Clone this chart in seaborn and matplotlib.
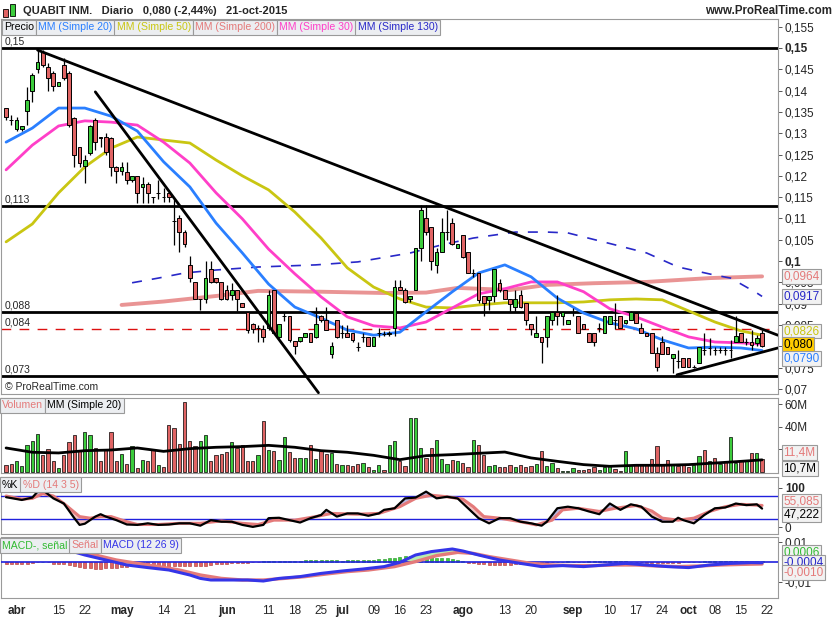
import numpy as np
import pandas as pd
import matplotlib
matplotlib.use("Agg")
import matplotlib.pyplot as plt
from matplotlib.patches import Rectangle
import seaborn as sns

# ------------------- data ------------------- #
start, end = "2015-03-30", "2015-10-22"
holidays = ["2015-04-03", "2015-04-06", "2015-05-01"]

opens = [
    0.1358, 0.1331, 0.1309, 0.1309, 0.1351, 0.1400, 0.1450, 0.1491, 0.1456, 0.1441,
    0.1411, 0.1460, 0.1441, 0.1335, 0.1268, 0.1223, 0.1253, 0.1331, 0.1290, 0.1290,
    0.1288, 0.1221, 0.1212, 0.1210, 0.1190, 0.1200, 0.1173, 0.1181, 0.1150, 0.1159,
    0.1150, 0.1159, 0.1093, 0.1101, 0.1069, 0.0991, 0.0950, 0.0911, 0.0911, 0.0981,
    0.0960, 0.0950, 0.0932, 0.0920, 0.0932, 0.0901, 0.0881, 0.0852, 0.0843, 0.0840,
    0.0842, 0.0932, 0.0821, 0.0870, 0.0870, 0.0813, 0.0812, 0.0821, 0.0831, 0.0821,
    0.0870, 0.0862, 0.0782, 0.0862, 0.0832, 0.0831, 0.0831, 0.0799, 0.0821, 0.0821,
    0.0801, 0.0832, 0.0829, 0.0829, 0.0842, 0.0940, 0.0932, 0.0910, 0.0932, 0.1030,
    0.1100, 0.1079, 0.0991, 0.1022, 0.1069, 0.1090, 0.1030, 0.1061, 0.1022, 0.0971,
    0.0971, 0.0918, 0.0909, 0.0918, 0.0949, 0.0932, 0.0910, 0.0891, 0.0920, 0.0901,
    0.0852, 0.0821, 0.0821, 0.0821, 0.0862, 0.0881, 0.0871, 0.0852, 0.0881, 0.0871,
    0.0852, 0.0831, 0.0831, 0.0842, 0.0831, 0.0852, 0.0862, 0.0871, 0.0854, 0.0862,
    0.0879, 0.0842, 0.0831, 0.0831, 0.0784, 0.0811, 0.0799, 0.0772, 0.0766, 0.0772,
    0.0772, 0.0751, 0.0760, 0.0791, 0.0795, 0.0791, 0.0792, 0.0791, 0.0791, 0.0811,
    0.0831, 0.0811, 0.0811, 0.0807, 0.0832]
highs = [
    0.1360, 0.1343, 0.1339, 0.1317, 0.1409, 0.1441, 0.1495, 0.1495, 0.1464, 0.1445,
    0.1419, 0.1476, 0.1445, 0.1339, 0.1268, 0.1249, 0.1319, 0.1335, 0.1292, 0.1300,
    0.1290, 0.1223, 0.1233, 0.1233, 0.1200, 0.1200, 0.1197, 0.1185, 0.1150, 0.1190,
    0.1171, 0.1163, 0.1145, 0.1108, 0.1073, 0.1012, 0.0950, 0.0911, 0.0999, 0.0999,
    0.0960, 0.0950, 0.0944, 0.0949, 0.0932, 0.0901, 0.0881, 0.0855, 0.0850, 0.0850,
    0.0932, 0.0932, 0.0852, 0.0879, 0.0870, 0.0813, 0.0821, 0.0832, 0.0831, 0.0893,
    0.0874, 0.0893, 0.0811, 0.0862, 0.0850, 0.0850, 0.0831, 0.0811, 0.0831, 0.0821,
    0.0821, 0.0842, 0.0835, 0.0835, 0.0956, 0.0956, 0.0936, 0.0918, 0.1030, 0.1132,
    0.1132, 0.1079, 0.1030, 0.1100, 0.1120, 0.1100, 0.1040, 0.1061, 0.1022, 0.0981,
    0.0971, 0.0918, 0.0918, 0.0981, 0.0959, 0.0932, 0.0910, 0.0932, 0.0932, 0.0901,
    0.0852, 0.0870, 0.0821, 0.0870, 0.0881, 0.0920, 0.0881, 0.0862, 0.0889, 0.0871,
    0.0852, 0.0831, 0.0831, 0.0854, 0.0870, 0.0871, 0.0901, 0.0871, 0.0862, 0.0883,
    0.0881, 0.0854, 0.0831, 0.0831, 0.0799, 0.0823, 0.0799, 0.0782, 0.0791, 0.0772,
    0.0772, 0.0755, 0.0799, 0.0831, 0.0819, 0.0799, 0.0799, 0.0799, 0.0815, 0.0870,
    0.0831, 0.0819, 0.0838, 0.0826, 0.0838]
lows = [
    0.1331, 0.1319, 0.1305, 0.1305, 0.1320, 0.1374, 0.1441, 0.1456, 0.1398, 0.1398,
    0.1411, 0.1425, 0.1315, 0.1221, 0.1221, 0.1183, 0.1249, 0.1261, 0.1268, 0.1249,
    0.1200, 0.1183, 0.1202, 0.1181, 0.1185, 0.1136, 0.1136, 0.1136, 0.1136, 0.1145,
    0.1139, 0.1139, 0.1038, 0.1022, 0.1034, 0.0952, 0.0911, 0.0884, 0.0901, 0.0949,
    0.0949, 0.0909, 0.0909, 0.0909, 0.0883, 0.0892, 0.0831, 0.0831, 0.0811, 0.0811,
    0.0838, 0.0830, 0.0819, 0.0860, 0.0811, 0.0782, 0.0811, 0.0821, 0.0811, 0.0819,
    0.0858, 0.0838, 0.0772, 0.0819, 0.0819, 0.0821, 0.0811, 0.0790, 0.0811, 0.0801,
    0.0801, 0.0821, 0.0823, 0.0823, 0.0823, 0.0932, 0.0901, 0.0905, 0.0932, 0.0999,
    0.1061, 0.0979, 0.0971, 0.1022, 0.1049, 0.1038, 0.1030, 0.1006, 0.0971, 0.0963,
    0.0901, 0.0871, 0.0884, 0.0905, 0.0928, 0.0910, 0.0881, 0.0881, 0.0889, 0.0850,
    0.0827, 0.0821, 0.0760, 0.0799, 0.0850, 0.0850, 0.0850, 0.0852, 0.0871, 0.0831,
    0.0840, 0.0811, 0.0801, 0.0834, 0.0831, 0.0852, 0.0840, 0.0842, 0.0852, 0.0862,
    0.0854, 0.0831, 0.0823, 0.0784, 0.0743, 0.0782, 0.0782, 0.0737, 0.0748, 0.0751,
    0.0751, 0.0748, 0.0760, 0.0780, 0.0780, 0.0780, 0.0784, 0.0780, 0.0772, 0.0811,
    0.0811, 0.0803, 0.0791, 0.0801, 0.0799]
closes = [
    0.1339, 0.1330, 0.1331, 0.1317, 0.1378, 0.1437, 0.1468, 0.1460, 0.1429, 0.1411,
    0.1419, 0.1429, 0.1320, 0.1249, 0.1231, 0.1237, 0.1317, 0.1280, 0.1288, 0.1257,
    0.1220, 0.1212, 0.1221, 0.1190, 0.1200, 0.1159, 0.1181, 0.1159, 0.1150, 0.1159,
    0.1150, 0.1150, 0.1093, 0.1069, 0.1039, 0.0960, 0.0911, 0.0911, 0.0960, 0.0952,
    0.0950, 0.0911, 0.0911, 0.0931, 0.0911, 0.0892, 0.0838, 0.0840, 0.0843, 0.0821,
    0.0920, 0.0832, 0.0852, 0.0870, 0.0814, 0.0801, 0.0821, 0.0831, 0.0811, 0.0852,
    0.0862, 0.0838, 0.0801, 0.0821, 0.0832, 0.0821, 0.0814, 0.0799, 0.0821, 0.0801,
    0.0821, 0.0832, 0.0829, 0.0832, 0.0940, 0.0932, 0.0905, 0.0918, 0.1030, 0.1120,
    0.1069, 0.0999, 0.1022, 0.1069, 0.1069, 0.1040, 0.1040, 0.1010, 0.0971, 0.0971,
    0.0909, 0.0901, 0.0918, 0.0981, 0.0932, 0.0910, 0.0899, 0.0910, 0.0891, 0.0862,
    0.0840, 0.0832, 0.0811, 0.0870, 0.0881, 0.0871, 0.0881, 0.0862, 0.0881, 0.0831,
    0.0840, 0.0811, 0.0811, 0.0842, 0.0870, 0.0871, 0.0862, 0.0842, 0.0862, 0.0881,
    0.0854, 0.0831, 0.0823, 0.0784, 0.0751, 0.0782, 0.0782, 0.0782, 0.0766, 0.0751,
    0.0751, 0.0751, 0.0799, 0.0791, 0.0795, 0.0791, 0.0792, 0.0791, 0.0791, 0.0823,
    0.0811, 0.0811, 0.0803, 0.0820, 0.0800]

# volume in millions
volume = [
    5.9, 7.4, 9.4, 5.0, 24.1, 27.6, 33.5, 15.3, 20.3, 9.4,
    3.5, 15.3, 26.5, 32.4, 18.2, 35.3, 32.9, 21.2, 9.4, 20.6,
    35.3, 9.4, 15.9, 7.1, 23.2, 3.5, 10.9, 9.4, 19.7, 6.5,
    4.1, 41.8, 38.8, 24.7, 61.8, 27.1, 22.6, 27.6, 32.9, 9.4,
    15.3, 16.2, 17.6, 26.2, 21.2, 24.1, 9.4, 9.4, 15.3, 44.7,
    19.7, 18.2, 10.9, 30.9, 17.4, 12.4, 12.4, 12.4, 24.1, 11.8,
    19.7, 15.9, 16.8, 7.1, 6.5, 5.9, 5.0, 7.1, 7.9, 4.1,
    2.1, 5.9, 2.1, 23.5, 27.1, 10.0, 5.0, 47.6, 47.6, 21.2,
    12.4, 21.2, 28.5, 11.8, 7.4, 10.3, 9.4, 7.9, 4.1, 28.5,
    24.1, 15.3, 5.0, 6.5, 4.1, 4.1, 6.5, 4.1, 5.9, 4.1,
    5.0, 7.1, 18.2, 5.0, 7.9, 3.5, 1.2, 1.2, 3.5, 2.1,
    2.1, 2.9, 4.1, 2.1, 4.1, 5.0, 2.9, 1.2, 18.8, 6.5,
    6.5, 6.5, 6.5, 11.5, 22.6, 6.5, 10.9, 6.5, 5.0, 6.5,
    4.1, 6.5, 13.8, 19.7, 9.4, 12.4, 7.1, 9.4, 30.6, 7.9,
    9.4, 9.4, 16.8, 16.8, 11.4]

# moving averages sampled every 5 sessions
ma_idx = [0, 5, 10, 15, 20, 25, 30, 35, 40, 45, 50, 55, 60, 65, 70,
          75, 80, 85, 90, 95, 100, 105, 110, 115, 120, 125, 130, 135, 140, 144]
ma20 = [0.1279, 0.1312, 0.1359, 0.1359, 0.1340, 0.1305, 0.1233, 0.1174, 0.1089, 0.1019,
        0.0946, 0.0892, 0.0866, 0.0838, 0.0826, 0.0833, 0.0881, 0.0928, 0.0972, 0.0991,
        0.0963, 0.0913, 0.0878, 0.0855, 0.0841, 0.0815, 0.0796, 0.0798, 0.0796, 0.0790]
ma30 = [0.1214, 0.1272, 0.1317, 0.1329, 0.1326, 0.1319, 0.1279, 0.1230, 0.1160, 0.1099,
        0.1028, 0.0970, 0.0916, 0.0869, 0.0848, 0.0843, 0.0857, 0.0890, 0.0923, 0.0935,
        0.0951, 0.0951, 0.0928, 0.0888, 0.0869, 0.0845, 0.0822, 0.0810, 0.0808, 0.0805]
ma50 = [0.1045, 0.1087, 0.1160, 0.1221, 0.1265, 0.1291, 0.1284, 0.1277, 0.1237, 0.1200,
        0.1167, 0.1115, 0.1054, 0.0984, 0.0939, 0.0911, 0.0892, 0.0890, 0.0897, 0.0902,
        0.0902, 0.0902, 0.0904, 0.0909, 0.0911, 0.0909, 0.0883, 0.0857, 0.0836, 0.0826]
ma200_idx = [22, 30, 40, 48, 60, 72, 80, 86, 96, 103, 112, 122, 134, 144]
ma200 = [0.0897, 0.0905, 0.0918, 0.0930, 0.0928, 0.0925, 0.0926, 0.0937, 0.0932, 0.0944,
         0.0948, 0.0951, 0.0960, 0.0964]
ma130_idx = [24, 29, 34, 40, 48, 59, 67, 77, 83, 89, 97, 103, 107, 116, 122, 128, 135,
             138, 143, 144]
ma130 = [0.0949, 0.0960, 0.0972, 0.0979, 0.0986, 0.0991, 0.0998, 0.1019, 0.1038, 0.1054,
         0.1068, 0.1068, 0.1066, 0.1038, 0.1019, 0.0986, 0.0967, 0.0960, 0.0925, 0.0917]
vol_ma20 = [21.2, 17.4, 16.8, 18.8, 19.4, 21.2, 18.2, 20.6, 21.8, 22.4, 23.5, 21.8, 18.8,
            17.4, 14.7, 10.9, 14.4, 15.3, 16.5, 17.6, 12.4, 9.4, 6.5, 5.0, 5.9, 5.9, 6.5,
            7.9, 9.4, 10.7]

# support / resistance levels and trend lines (session index, price)
levels = [0.15, 0.113, 0.088, 0.073]
level_labels = ["0,15", "0,113", "0,088", "0,073"]
dashed_level = 0.084
trend_lines = [((6, 0.1495), (147, 0.0826)),
               ((17, 0.1397), (59.5, 0.0691)),
               ((127.8, 0.0733), (147, 0.0796))]

# stochastic %K and %D
k_idx = [0, 3, 5, 6, 7, 9, 11, 13, 14, 15, 17, 18, 19, 21, 23, 25, 27, 29, 31, 33, 35,
         37, 39, 41, 43, 45, 47, 49, 50, 52, 54, 56, 58, 60, 61, 63, 65, 67, 69, 71, 72,
         74, 76, 78, 80, 82, 84, 86, 88, 90, 92, 94, 96, 98, 100, 102, 103, 105, 107, 109,
         111, 113, 115, 117, 119, 121, 123, 125, 127, 128, 129, 131, 133, 135, 137, 139,
         141, 143, 144]
k_val = [76, 69, 75, 90, 94, 73, 60, 23, 6, 9, 27, 33, 27, 18, 7, 6, 10, 6, 7, 10, 10,
         4, 18, 14, 14, 6, 1, 6, 23, 24, 18, 12, 23, 31, 44, 27, 35, 35, 29, 35, 44,
         48, 73, 75, 90, 73, 77, 73, 48, 23, 10, 23, 23, 14, 10, 4, 14, 48, 52, 48,
         40, 33, 60, 44, 58, 52, 27, 14, 14, 24, 18, 10, 31, 48, 50, 60,
         56, 58, 47.222]
d_idx = [0, 3, 5, 7, 9, 11, 13, 14, 16, 18, 20, 23, 25, 29, 33, 37, 41, 45, 48, 51, 55,
         59, 62, 67, 71, 75, 78, 81, 84, 87, 89, 91, 94, 98, 101, 104, 106, 109, 113, 116,
         120, 123, 125, 128, 131, 134, 137, 140, 144]
d_val = [79, 71, 73, 85, 79, 60, 38, 27, 23, 27, 27, 14, 7, 7, 10, 10, 16, 10, 7, 18, 18,
         27, 35, 33, 35, 52, 73, 81, 77, 71, 52, 27, 23, 14, 6, 18, 44, 48, 40, 48,
         55, 41, 23, 18, 23, 40, 52, 58, 55.085]

# MACD (12 26 9)
macd_idx = [0, 5, 9, 13, 15, 19, 23, 27, 31, 35, 37, 39, 43, 46, 49, 52, 56, 60, 64, 68,
            72, 75, 78, 81, 85, 87, 90, 94, 98, 102, 106, 110, 114, 118, 122, 126, 130,
            134, 138, 142, 144]
macd = [0.0085, 0.0082, 0.0070, 0.0050, 0.0035, 0.0010, -0.0015, -0.0028, -0.0040,
        -0.0065, -0.0082, -0.0090, -0.0090, -0.0090, -0.0095, -0.0082, -0.0073, -0.0057,
        -0.0045, -0.0035, -0.0023, -0.0002, 0.0035, 0.0052, 0.0065, 0.0055, 0.0035, 0.0010,
        -0.0007, -0.0023, -0.0018, -0.0023, -0.0015, -0.0007, -0.0015, -0.0023, -0.0028,
        -0.0015, -0.0007, -0.0003, -0.0004]
sig_idx = [0, 6, 10, 13, 17, 21, 25, 29, 33, 37, 41, 45, 49, 53, 57, 61, 65, 69, 74, 78,
           82, 86, 89, 92, 96, 100, 104, 108, 112, 116, 120, 124, 128, 132, 136, 140, 144]
signal = [0.0080, 0.0085, 0.0080, 0.0060, 0.0035, 0.0010, -0.0007, -0.0023, -0.0040,
          -0.0065, -0.0082, -0.0090, -0.0090, -0.0082, -0.0073, -0.0060, -0.0048, -0.0040,
          -0.0023, 0.0002, 0.0032, 0.0048, 0.0043, 0.0027, 0.0010, -0.0007, -0.0015,
          -0.0018, -0.0018, -0.0015, -0.0015, -0.0020, -0.0023, -0.0020, -0.0015, -0.0012,
          -0.0010]
macd_hist = [
    -0.0010, -0.0012, -0.0010, -0.0008, -0.0010, -0.0006, -0.0002, 0.0, -0.0002,
    -0.0008, -0.0010, -0.0012, -0.0015, -0.0020,
    -0.0025, -0.0030, -0.0032, -0.0035, -0.0033, -0.0030, -0.0030, -0.0028, -0.0027,
    -0.0025, -0.0022, -0.0020, -0.0022, -0.0025, -0.0027, -0.0028, -0.0030, -0.0025,
    -0.0022,
    -0.0020, -0.0018, -0.0018, -0.0020, -0.0020, -0.0018, -0.0015, -0.0012, -0.0010,
    -0.0008, -0.0006, -0.0005, -0.0004, -0.0003, -0.0002, -0.0001,
    0.0003, 0.0005, 0.0006, 0.0005, 0.0004, 0.0005, 0.0006, 0.0007, 0.0008, 0.0008,
    0.0009, 0.0010, 0.0009, 0.0008, 0.0008, 0.0007, 0.0008, 0.0009, 0.0010, 0.0011,
    0.0010, 0.0012, 0.0014, 0.0016,
    0.0018, 0.0022, 0.0025, 0.0028, 0.0030, 0.0030, 0.0028, 0.0027, 0.0025, 0.0022,
    0.0020, 0.0018, 0.0014, 0.0010, 0.0006,
    -0.0003, -0.0006, -0.0010, -0.0012, -0.0014, -0.0015, -0.0016, -0.0015, -0.0014,
    -0.0012, -0.0010, -0.0009, -0.0008, -0.0006, -0.0004, -0.0003, -0.0002,
    0.0001, 0.0002, 0.0003, 0.0002, 0.0001, 0.0002, 0.0003, 0.0004, 0.0004, 0.0003,
    0.0004, 0.0005, 0.0004, 0.0003, 0.0002,
    -0.0001, -0.0002, -0.0003, -0.0004, -0.0005, -0.0005, -0.0004, -0.0003, -0.0003,
    -0.0002, -0.0001, 0.0,
    0.0002, 0.0003, 0.0004, 0.0005, 0.0006, 0.0006, 0.0006, 0.0007, 0.0006, 0.0006,
    0.0006, 0.0006, 0.0006]

tick_dates = ["2015-04-01", "2015-04-15", "2015-04-22", "2015-05-04", "2015-05-14",
              "2015-05-21", "2015-06-01", "2015-06-11", "2015-06-18", "2015-06-25",
              "2015-07-01", "2015-07-09", "2015-07-16", "2015-07-23", "2015-08-03",
              "2015-08-13", "2015-08-20", "2015-09-01", "2015-09-10", "2015-09-17",
              "2015-09-24", "2015-10-01", "2015-10-08", "2015-10-15", "2015-10-22"]
tick_labels = ["abr", "15", "22", "may", "14", "21", "jun", "11", "18", "25", "jul", "09",
               "16", "23", "ago", "13", "20", "sep", "10", "17", "24", "oct", "08", "15", "22"]
month_names = ["abr", "may", "jun", "jul", "ago", "sep", "oct"]

# ------------------- styling ------------------- #
sns.set_style("white")
plt.rcParams['font.family'] = ['Liberation Sans', 'DejaVu Sans']

GREEN = "#3ccc3c"
RED = "#e06464"
C20, C30, C50, C200, C130 = "#2a7fff", "#ff3fc8", "#c9c612", "#e47a7a", "#2828c8"
FRAME = "#9a9a9a"

n = len(closes)
x = np.arange(n)
o, h, l, c = map(np.array, (opens, highs, lows, closes))
cols = np.where(c > o, GREEN, np.where(c < o, RED, "black"))
prev_c = np.r_[c[0], c[:-1]]
vol_cols = np.where(c > o, GREEN, np.where(c < o, RED, np.where(c >= prev_c, GREEN, RED)))

fig = plt.figure(figsize=(8.35, 6.2), dpi=100)
W = 777 / 835
ax_p = fig.add_axes([0.001, 1 - 394 / 620, W, 375 / 620])
ax_v = fig.add_axes([0.001, 1 - 473 / 620, W, 75 / 620])
ax_s = fig.add_axes([0.001, 1 - 534 / 620, W, 57 / 620])
ax_m = fig.add_axes([0.001, 1 - 598 / 620, W, 61 / 620])

for ax in (ax_p, ax_v, ax_s, ax_m):
    ax.set_xlim(-1, 147)
    for s in ax.spines.values():
        s.set_color(FRAME)
        s.set_linewidth(0.8)
    ax.yaxis.tick_right()
    ax.tick_params(axis='y', length=3, width=0.7, color="#555555", labelsize=8.5, pad=2)
    ax.tick_params(axis='x', length=0, labelbottom=False)

renderer = fig.canvas.get_renderer()


def tag(ax, y, text, color, fc="#f2f2f2", dy=0):
    ax.annotate(text, xy=(1, y), xycoords=('axes fraction', 'data'),
                xytext=(4, dy), textcoords='offset points', va='center', ha='left',
                color=color, fontsize=8.5, annotation_clip=False, zorder=20,
                bbox=dict(boxstyle='square,pad=0.12', fc=fc, ec="#9a9a9a", lw=0.8))


def legend_row(items, top_px, x_px=2):
    # boxes placed one after the other, like the chart's indicator headers
    for text, color in items:
        t = fig.text((x_px + 2) / 835, 1 - (top_px + 2.5) / 620, text, color=color,
                     fontsize=7.6, va='top', ha='left', zorder=30,
                     bbox=dict(boxstyle='square,pad=0.22', fc="#eceef1", ec="#9a9a9a", lw=0.8))
        w = t.get_window_extent(renderer).width
        x_px += w + 4.2


# ------------------- price panel ------------------- #
ax_p.set_ylim(0.0688, 0.1568)
for lv, lab in zip(levels, level_labels):
    ax_p.axhline(lv, color="black", lw=2, zorder=2)
    ax_p.annotate(lab, xy=(0, lv), xycoords=('axes fraction', 'data'), xytext=(3, 1),
                  textcoords='offset points', fontsize=7.5, va='bottom')
ax_p.axhline(dashed_level, color="#dd1111", lw=1, ls=(0, (7, 6)), zorder=2)
ax_p.annotate("0,084", xy=(0, dashed_level), xycoords=('axes fraction', 'data'),
              xytext=(3, 1), textcoords='offset points', fontsize=7.5, va='bottom')

for (x0, y0), (x1, y1) in trend_lines:
    ax_p.plot([x0, x1], [y0, y1], color="black", lw=2, zorder=6)

sns.lineplot(x=ma200_idx, y=ma200, ax=ax_p, color=C200, lw=2.8, alpha=0.8, zorder=3)
sns.lineplot(x=ma130_idx, y=ma130, ax=ax_p, color=C130, lw=1.2, linestyle=(0, (6, 6)), zorder=3)
sns.lineplot(x=ma_idx, y=ma50, ax=ax_p, color=C50, lw=2, zorder=3)
sns.lineplot(x=ma_idx, y=ma30, ax=ax_p, color=C30, lw=2, zorder=3)
sns.lineplot(x=ma_idx, y=ma20, ax=ax_p, color=C20, lw=2, zorder=3)

ax_p.vlines(x, l, h, color="black", lw=0.9, zorder=4)
ax_p.bar(x, np.abs(c - o), bottom=np.minimum(o, c), width=0.72, color=cols,
         edgecolor="black", linewidth=0.7, zorder=5)

pticks = np.round(np.arange(0.07, 0.1551, 0.005), 3)
ax_p.set_yticks(pticks)
ax_p.set_yticklabels(["" if v == 0.08 else "0," + f"{v:.3f}".split(".")[1].rstrip("0")
                      for v in pticks])
for t, v in zip(ax_p.get_yticklabels(), pticks):
    if v in (0.1, 0.15):
        t.set_fontweight('bold')
ax_p.set_ylabel("")

tag(ax_p, 0.0964, "0,0964", C200)
tag(ax_p, 0.0917, "0,0917", C130)
tag(ax_p, 0.0826, "0,0826", C50, dy=3)
tag(ax_p, 0.0800, "0,080", "black", fc="#ffcc00", dy=1)
tag(ax_p, 0.0790, "0,0790", C20, dy=-6)

ax_p.text(0.005, 0.012, "© ProRealTime.com", transform=ax_p.transAxes, fontsize=7.5)

# ------------------- volume panel ------------------- #
ax_v.set_ylim(-0.9, 65.3)
ax_v.bar(x, volume, width=0.62, color=vol_cols, edgecolor="black", linewidth=0.5, zorder=3)
sns.lineplot(x=ma_idx, y=vol_ma20, ax=ax_v, color="black", lw=2, zorder=4)
ax_v.set_yticks([20, 40, 60])
ax_v.set_yticklabels(["", "40M", "60M"])
ax_v.set_ylabel("")
tag(ax_v, 11.4, "11,4M", C200, dy=5)
tag(ax_v, 10.7, "10,7M", "black", dy=-6)

# ------------------- stochastic panel ------------------- #
ax_s.set_ylim(-17, 127)
grid = np.linspace(0, 144, 1441)
kk = np.interp(grid, k_idx, k_val)
dd = np.interp(grid, d_idx, d_val)
ax_s.fill_between(grid, kk, dd, where=kk >= dd, color="#b9b9e2", lw=0, zorder=2)
ax_s.fill_between(grid, kk, dd, where=kk < dd, color="#f3c4c4", lw=0, zorder=2)
ax_s.axhline(80, color="#2020dd", lw=1, zorder=3)
ax_s.axhline(20, color="#2020dd", lw=1, zorder=3)
sns.lineplot(x=d_idx, y=d_val, ax=ax_s, color=C200, lw=2.2, zorder=4)
sns.lineplot(x=k_idx, y=k_val, ax=ax_s, color="black", lw=1.6, zorder=5)
ax_s.set_yticks([0, 100])
ax_s.set_yticklabels(["0", "100"])
ax_s.get_yticklabels()[1].set_fontweight('bold')
ax_s.set_ylabel("")
tag(ax_s, 55.085, "55,085", C200, dy=3)
tag(ax_s, 47.222, "47,222", "black", dy=-4)

# ------------------- MACD panel ------------------- #
ax_m.set_ylim(-0.018, 0.0125)
hist = np.array(macd_hist)
ax_m.bar(x, hist, width=0.6, color=np.where(hist >= 0, GREEN, RED),
         edgecolor=np.where(hist >= 0, "#1f8f1f", "#a83030"), linewidth=0.4, zorder=2)
gm = np.interp(grid, macd_idx, macd)
gs = np.interp(grid, sig_idx, signal)
ax_m.fill_between(grid, gm, gs, where=gm >= gs, color="#b8ecb0", lw=0, zorder=2)
ax_m.fill_between(grid, gm, gs, where=gm < gs, color="#f3c4c4", lw=0, zorder=2)
ax_m.axhline(0, color="#2020dd", lw=1.2, zorder=3)
sns.lineplot(x=sig_idx, y=signal, ax=ax_m, color=C200, lw=2.4, zorder=4)
sns.lineplot(x=macd_idx, y=macd, ax=ax_m, color="#3535e8", lw=2.2, zorder=5)
ax_m.set_yticks([0.01, -0.01])
ax_m.set_yticklabels(["0,01", "-0,01"])
ax_m.set_ylabel("")
tag(ax_m, 0.0006, "0,0006", "#33bb33", dy=6)
tag(ax_m, -0.0004, "-0,0004", "#2828c8", dy=0)
tag(ax_m, -0.0010, "-0,0010", C200, dy=-6)

# x axis labels
all_days = pd.bdate_range(start, "2015-10-23")
all_days = all_days[~all_days.isin(pd.to_datetime(holidays))]
tpos = [int(np.searchsorted(all_days, pd.Timestamp(d))) for d in tick_dates]
ax_m.set_xticks(tpos)
ax_m.set_xticklabels(tick_labels)
ax_m.tick_params(axis='x', labelbottom=True, labelsize=8.5, pad=3, length=2, color="#555555")
for t in ax_m.get_xticklabels():
    if t.get_text() in month_names:
        t.set_fontweight('bold')
ax_m.set_xlim(-1, 147)

# ------------------- indicator headers ------------------- #
legend_row([("Precio", "black"), ("MM (Simple 20)", C20), ("MM (Simple 50)", C50),
            ("MM (Simple 200)", C200), ("MM (Simple 30)", C30), ("MM (Simple 130)", C130)], 20)
legend_row([("Volumen", C200), ("MM (Simple 20)", "black")], 398, x_px=0)
legend_row([("%K", "black"), ("%D (14 3 5)", C200)], 477, x_px=0)
legend_row([("MACD-, señal", "#33bb33"), ("Señal", C200), ("MACD (12 26 9)", "#3535e8")],
           538, x_px=0)

# ------------------- header ------------------- #
fig.text(23 / 835, 1 - 11 / 620, "QUABIT INM.   Diario   0,080 (-2,44%)   21-oct-2015",
         fontsize=8.0, fontweight='bold', va='center')
fig.text(832 / 835, 1 - 11 / 620, "www.ProRealTime.com", fontsize=8.3,
         fontweight='bold', va='center', ha='right')
fig.patches.append(Rectangle((3 / 835, 1 - 17 / 620), 5 / 835, 8 / 620,
                             transform=fig.transFigure, fc=RED, ec="black", lw=0.6))
fig.patches.append(Rectangle((10 / 835, 1 - 16 / 620), 5 / 835, 12 / 620,
                             transform=fig.transFigure, fc=GREEN, ec="black", lw=0.6))

fig.savefig("out.png", dpi=100, facecolor="white")
